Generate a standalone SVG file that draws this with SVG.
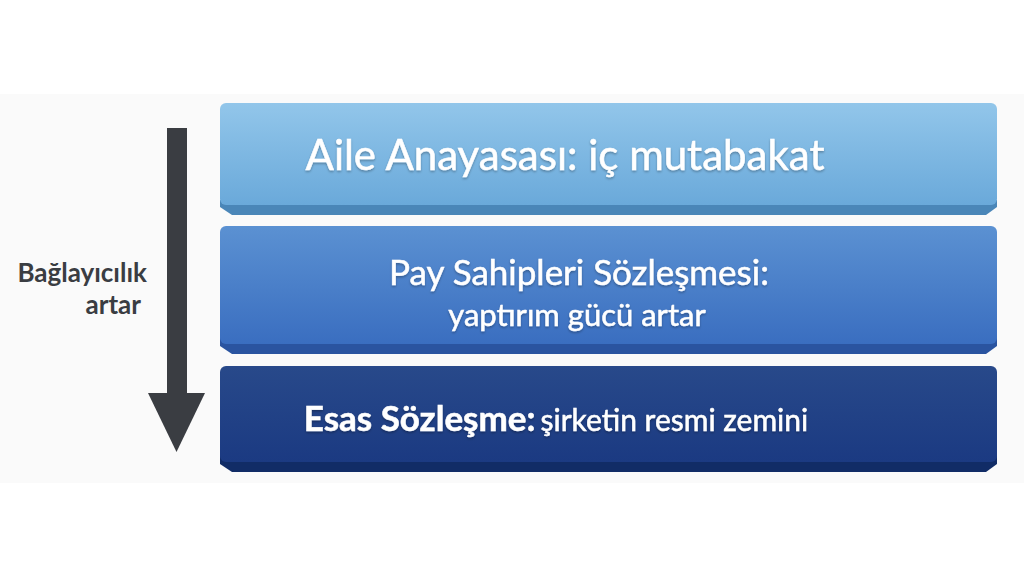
<svg xmlns="http://www.w3.org/2000/svg" width="1024" height="576" viewBox="0 0 1024 576">
<defs>
<linearGradient id="g1" x1="0" y1="0" x2="0" y2="1"><stop offset="0" stop-color="#92c6ea"/><stop offset="1" stop-color="#6aa9da"/></linearGradient>
<linearGradient id="g2" x1="0" y1="0" x2="0" y2="1"><stop offset="0" stop-color="#5b91d2"/><stop offset="1" stop-color="#3a6ec0"/></linearGradient>
<linearGradient id="g3" x1="0" y1="0" x2="0" y2="1"><stop offset="0" stop-color="#28498a"/><stop offset="1" stop-color="#1b3a82"/></linearGradient>
<filter id="ts" x="-5%" y="-20%" width="110%" height="140%"><feDropShadow dx="0" dy="1.5" stdDeviation="1.2" flood-color="#000" flood-opacity="0.3"/></filter>
</defs>
<style>
.t{font-family:Lato,"Open Sans","Liberation Sans",sans-serif;fill:#ffffff;stroke:#ffffff;stroke-width:0.5;text-anchor:middle;filter:url(#ts)}
.lbl{font-family:Lato,"Open Sans","Liberation Sans",sans-serif;fill:#3a3d42;font-weight:bold;font-size:26px;text-anchor:end}
</style>
<rect x="0" y="0" width="1024" height="576" fill="#ffffff"/>
<rect x="0" y="94" width="1024" height="389" fill="#fafafa"/>
<g id="connectors">
<rect x="167" y="128" width="20" height="268" fill="#3a3d42"/>
<polygon points="148,393 205,393 176.5,452" fill="#3a3d42"/>
</g>
<g id="label">
<text class="lbl" x="147" y="282">Bağlayıcılık</text>
<text class="lbl" x="141" y="314">artar</text>
</g>
<g id="node1">
<polygon points="220,200 997,200 997,207 986,215 232,215 220,207" fill="#4a86b8"/>
<rect x="220" y="103" width="777" height="102" rx="6" fill="url(#g1)"/>
<text class="t" x="565" y="170" font-size="42">Aile Anayasası: iç mutabakat</text>
</g>
<g id="node2">
<polygon points="220,338 997,338 997,346 986,354 232,354 220,346" fill="#2a54a0"/>
<rect x="220" y="226" width="777" height="118" rx="6" fill="url(#g2)"/>
<text class="t" x="579" y="285" font-size="35">Pay Sahipleri Sözleşmesi:</text>
<text class="t" x="577" y="326" font-size="31">yaptırım gücü artar</text>
</g>
<g id="node3">
<polygon points="220,456 997,456 997,464 986,472 232,472 220,464" fill="#112c66"/>
<rect x="220" y="366" width="777" height="96" rx="6" fill="url(#g3)"/>
<text class="t" x="556" y="431"><tspan font-size="35" font-weight="bold">Esas Sözleşme:</tspan><tspan font-size="30" dx="5">şirketin resmi zemini</tspan></text>
</g>
</svg>
